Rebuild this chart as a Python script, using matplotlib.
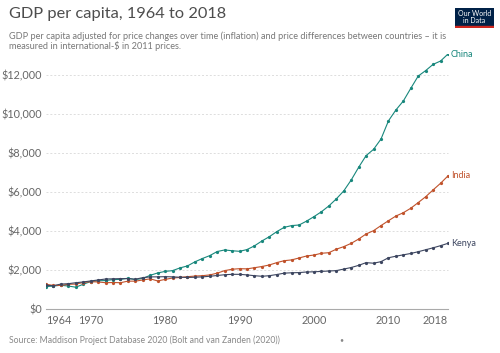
import matplotlib.pyplot as plt
from matplotlib.patches import Rectangle

years = list(range(1964, 2019))

china = [1.16, 1.19, 1.23, 1.19, 1.13, 1.28, 1.42, 1.46, 1.47, 1.52,
         1.53, 1.59, 1.52, 1.58, 1.74, 1.86, 1.94, 1.98, 2.12, 2.22,
         2.43, 2.60, 2.75, 2.96, 3.04, 3.00, 2.97, 3.06, 3.25, 3.50,
         3.72, 3.98, 4.20, 4.29, 4.32, 4.52, 4.75, 5.00, 5.30, 5.66,
         6.07, 6.63, 7.28, 7.88, 8.20, 8.73, 9.66, 10.22, 10.68, 11.33,
         11.96, 12.24, 12.56, 12.73, 13.09]
india = [1.28, 1.22, 1.22, 1.28, 1.29, 1.37, 1.41, 1.40, 1.36, 1.37,
         1.36, 1.44, 1.44, 1.50, 1.56, 1.45, 1.53, 1.60, 1.63, 1.67,
         1.70, 1.72, 1.76, 1.85, 1.98, 2.05, 2.08, 2.07, 2.13, 2.19,
         2.27, 2.39, 2.49, 2.53, 2.63, 2.73, 2.78, 2.87, 2.90, 3.08,
         3.21, 3.38, 3.60, 3.86, 4.03, 4.29, 4.54, 4.78, 4.95, 5.18,
         5.47, 5.77, 6.12, 6.46, 6.84]
kenya = [1.22, 1.21, 1.29, 1.31, 1.36, 1.40, 1.45, 1.50, 1.55, 1.56,
         1.57, 1.57, 1.54, 1.62, 1.66, 1.66, 1.67, 1.66, 1.64, 1.63,
         1.64, 1.66, 1.69, 1.73, 1.77, 1.79, 1.79, 1.76, 1.72, 1.69,
         1.72, 1.78, 1.85, 1.87, 1.88, 1.91, 1.92, 1.94, 1.96, 1.98,
         2.06, 2.14, 2.25, 2.39, 2.36, 2.44, 2.64, 2.72, 2.79, 2.86,
         2.95, 3.05, 3.15, 3.26, 3.38]

series = [('China', china, '#18877c'),
          ('India', india, '#c0522b'),
          ('Kenya', kenya, '#3d4660')]

yticks = [0, 2000, 4000, 6000, 8000, 10000, 12000]
xticks = [1964, 1970, 1980, 1990, 2000, 2010, 2018]

plt.rcParams['font.family'] = ['Lato', 'DejaVu Sans']

fig = plt.figure(figsize=(5, 3.53), dpi=100)
ax = fig.add_axes([0.092, 0.124, 0.804, 0.723])

for name, vals, col in series:
    v = [x * 1000 for x in vals]
    ax.plot(years, v, color=col, lw=0.8, marker='o', ms=1.3, zorder=3)
    ax.text(years[-1] + 0.4, v[-1], name, color=col, fontsize=6.5,
            va='center', ha='left')

ax.set_xlim(1964, 2018)
ax.set_ylim(0, 13090)
ax.set_yticks(yticks)
ax.set_yticklabels(['$0'] + ['${:,}'.format(t) for t in yticks[1:]])
ax.set_xticks(xticks)
ax.tick_params(axis='y', length=0, pad=3, labelsize=7.8, labelcolor='#666666')
ax.tick_params(axis='x', length=0, pad=4, labelsize=7.8, labelcolor='#666666')
xl = ax.get_xticklabels()
xl[0].set_ha('left')
xl[-1].set_ha('right')
ax.set_xticks([1964, 2018], minor=True)
ax.tick_params(axis='x', which='minor', length=4, color='#aaaaaa', width=0.8)
for t in yticks[1:]:
    ax.axhline(t, color='#dddddd', lw=0.7, ls=(0, (2, 2)), zorder=1, clip_on=False)
for s in ['top', 'right', 'left']:
    ax.spines[s].set_visible(False)
ax.spines['bottom'].set_color('#aaaaaa')
ax.spines['bottom'].set_linewidth(0.8)

fig.text(0.018, 0.95, 'GDP per capita, 1964 to 2018', fontsize=11.8,
         color='#4d4d4d', va='baseline')
fig.text(0.018, 0.912,
         'GDP per capita adjusted for price changes over time (inflation) and price differences between countries – it is\n'
         'measured in international-$ in 2011 prices.',
         fontsize=6.6, color='#777777', va='top', linespacing=1.0)
fig.text(0.018, 0.028, 'Source: Maddison Project Database 2020 (Bolt and van Zanden (2020))',
         fontsize=6.2, color='#888888', va='baseline')
fig.text(0.678, 0.03, '•', fontsize=5, color='#888888', va='baseline')

logo = fig.add_axes([0.910, 0.920, 0.077, 0.058])
logo.add_patch(Rectangle((0, 0.1), 1, 0.9, color='#002147'))
logo.add_patch(Rectangle((0, 0), 1, 0.1, color='#ce261e'))
logo.text(0.5, 0.56, 'Our World\nin Data', color='white', fontsize=5.0,
          ha='center', va='center', linespacing=1.0)
logo.set_xlim(0, 1)
logo.set_ylim(0, 1)
logo.axis('off')

fig.savefig('out.png', dpi=100)
